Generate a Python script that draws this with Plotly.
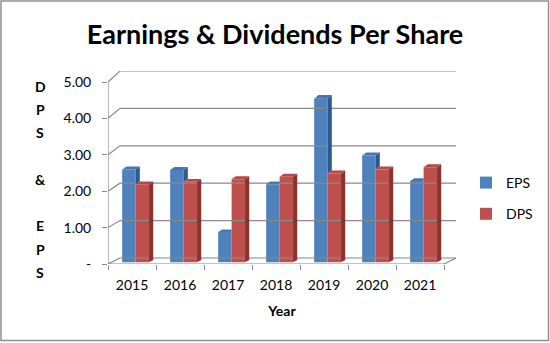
import plotly.graph_objects as go

# ---- data -------------------------------------------------------------
years = ["2015", "2016", "2017", "2018", "2019", "2020", "2021"]
eps = [2.55, 2.53, 0.83, 2.14, 4.49, 2.93, 2.23]
dps = [2.14, 2.21, 2.28, 2.35, 2.44, 2.55, 2.61]
y_tick_vals = [0, 1, 2, 3, 4, 5]
y_tick_text = ["-", "1.00", "2.00", "3.00", "4.00", "5.00"]
y_title_letters = ["D", "P", "S", "", "&", "", "E", "P", "S"]

# ---- geometry of the pseudo-3D box (pixels) ---------------------------
W, H = 550, 343
PLOT_L, PLOT_R, PLOT_T, PLOT_B = 108, 456, 71, 264
PX_PER_X = 48.0          # one category
PX_PER_Y = 36.4          # one unit on the value axis
X_MIN = -0.5
X_MAX = X_MIN + (PLOT_R - PLOT_L) / PX_PER_X
Y_MAX = (PLOT_B - PLOT_T) / PX_PER_Y
N = len(years)
DEPTH_DX = 12.0          # horizontal shift of the back wall


def depth_dy(v):
    """Vertical lift (px) of the back wall at value v."""
    return 6.0 + 1.0 * v


def push_back(x, v, f):
    """Move a front-plane point (x, v) a fraction f of the way to the back wall."""
    return x + f * DEPTH_DX / PX_PER_X, v + f * depth_dy(v) / PX_PER_Y


def xp(px):
    return (px - PLOT_L) / (PLOT_R - PLOT_L)


def yp(py):
    return (PLOT_B - py) / (PLOT_B - PLOT_T)


FONT = "Lato"
GRID = "#8a8a8a"
EPS_FRONT, EPS_TOP, EPS_SIDE = "#4F81BD", "#4677B2", "#2D5A8E"
DPS_FRONT, DPS_TOP, DPS_SIDE = "#C0504D", "#B74845", "#8A3331"

fig = go.Figure()

# ---- walls, floor and grid -------------------------------------------
gx, gy = [], []
for v in y_tick_vals:
    xb, yb = push_back(X_MIN, v, 1)
    xc, yc = push_back(X_MIN + N, v, 1)
    gx += [X_MIN, xb, xc, None]
    gy += [v, yb, yc, None]
# front value axis
gx += [X_MIN, X_MIN, None]
gy += [0, y_tick_vals[-1], None]
# front and right edges of the floor
xr, yr = push_back(X_MIN + N, 0, 1)
gx += [X_MIN, X_MIN + N, xr, None]
gy += [0, 0, yr, None]
fig.add_trace(go.Scatter(x=gx, y=gy, mode="lines", line=dict(color=GRID, width=1.2),
                         hoverinfo="skip", showlegend=False))

# ---- bars -------------------------------------------------------------
BAR_W = 0.28
F_FRONT, F_BACK = 0.30, 0.65
shift_x = F_FRONT * DEPTH_DX / PX_PER_X
base = F_FRONT * depth_dy(0) / PX_PER_Y
sdx = (F_BACK - F_FRONT) * DEPTH_DX / PX_PER_X


def sdy(v):
    return (F_BACK - F_FRONT) * depth_dy(v) / PX_PER_Y


idx = list(range(N))
fig.add_trace(go.Bar(x=idx, y=eps, base=base, width=BAR_W, offset=shift_x - BAR_W,
                     marker=dict(color=EPS_FRONT, line=dict(width=0)), name="EPS",
                     legendgroup="eps"))
fig.add_trace(go.Bar(x=idx, y=dps, base=base, width=BAR_W, offset=shift_x,
                     marker=dict(color=DPS_FRONT, line=dict(width=0)), name="DPS",
                     legendgroup="dps"))

faces = {k: ([], []) for k in ("eps_top", "eps_side", "dps_top", "dps_side")}


def add_poly(key, pts):
    xs, ys = faces[key]
    for px_, py_ in pts:
        xs.append(px_)
        ys.append(py_)
    xs.append(pts[0][0]); ys.append(pts[0][1])
    xs.append(None); ys.append(None)


for i in idx:
    ex0 = i + shift_x - BAR_W
    ex1 = i + shift_x
    dx1 = ex1 + BAR_W
    etop = eps[i] + base
    dtop = dps[i] + base
    # EPS faces (partly hidden by the DPS bar standing next to it)
    if etop > dtop:
        add_poly("eps_top", [(ex0, etop), (ex1, etop), (ex1 + sdx, etop + sdy(eps[i])),
                             (ex0 + sdx, etop + sdy(eps[i]))])
        low = max(base, dtop)
        add_poly("eps_side", [(ex1, low), (ex1, etop), (ex1 + sdx, etop + sdy(eps[i])),
                              (ex1 + sdx, low + sdy(dps[i]))])
    else:
        add_poly("eps_top", [(ex0, etop), (ex1, etop), (ex1, etop + sdy(eps[i])),
                             (ex0 + sdx, etop + sdy(eps[i]))])
    # DPS faces
    add_poly("dps_top", [(ex1, dtop), (dx1, dtop), (dx1 + sdx, dtop + sdy(dps[i])),
                         (ex1 + sdx, dtop + sdy(dps[i]))])
    add_poly("dps_side", [(dx1, base), (dx1, dtop), (dx1 + sdx, dtop + sdy(dps[i])),
                          (dx1 + sdx, base + sdy(0))])

for key, color in (("eps_top", EPS_TOP), ("eps_side", EPS_SIDE),
                   ("dps_top", DPS_TOP), ("dps_side", DPS_SIDE)):
    xs, ys = faces[key]
    fig.add_trace(go.Scatter(x=xs, y=ys, mode="lines", fill="toself", fillcolor=color,
                             line=dict(width=0, color=color), hoverinfo="skip",
                             showlegend=False))

# ---- stacked y-axis title ----------------------------------------------
LETTER_Y0, LETTER_STEP = 86, 23.3
for k, ch in enumerate(y_title_letters):
    if not ch:
        continue
    fig.add_annotation(text=f"<b>{ch}</b>", x=xp(40), y=yp(LETTER_Y0 + k * LETTER_STEP),
                       xref="paper", yref="paper", showarrow=False,
                       xanchor="center", yanchor="middle",
                       font=dict(family=FONT, size=14, color="#000000"))

# ---- outer frame --------------------------------------------------------
fig.add_shape(type="rect", xref="paper", yref="paper",
              x0=xp(1), x1=xp(548.5), y0=yp(340.5), y1=yp(1),
              line=dict(color="#8f8f8f", width=1.5), fillcolor="rgba(0,0,0,0)")

fig.update_layout(
    width=W, height=H,
    margin=dict(l=PLOT_L, r=W - PLOT_R, t=PLOT_T, b=H - PLOT_B, pad=0,
                autoexpand=False),
    paper_bgcolor="white", plot_bgcolor="white",
    barmode="overlay",
    title=dict(text="<b>Earnings & Dividends Per Share</b>", x=0.5, xref="container",
               y=1 - 35 / H, yref="container", xanchor="center", yanchor="middle",
               font=dict(family=FONT, size=27, color="#000000")),
    xaxis=dict(range=[X_MIN, X_MAX], tickmode="array", tickvals=idx, ticktext=years,
               ticks="", showgrid=False, zeroline=False, showline=False,
               ticklabelstandoff=11,
               tickfont=dict(family=FONT, size=14, color="#000000"),
               minor=dict(tickmode="array", tickvals=[X_MIN + k for k in range(N + 1)],
                          ticks="outside", ticklen=5, tickcolor=GRID, tickwidth=1,
                          showgrid=False),
               title=dict(text="<b>Year</b>", standoff=14,
                          font=dict(family=FONT, size=14, color="#000000")),
               automargin=False, fixedrange=True),
    yaxis=dict(range=[0, Y_MAX], tickmode="array", tickvals=y_tick_vals,
               ticktext=y_tick_text, ticks="outside", ticklen=5, tickcolor=GRID,
               tickwidth=1, showgrid=False, zeroline=False, showline=False,
               ticklabelstandoff=8,
               tickfont=dict(family=FONT, size=14, color="#000000"),
               automargin=False, fixedrange=True),
    legend=dict(x=xp(466), y=yp(167), xanchor="left", yanchor="top",
                font=dict(family=FONT, size=14, color="#000000"),
                tracegroupgap=10, itemwidth=30, bgcolor="rgba(0,0,0,0)"),
    showlegend=True,
)

fig.write_html("out.html")
